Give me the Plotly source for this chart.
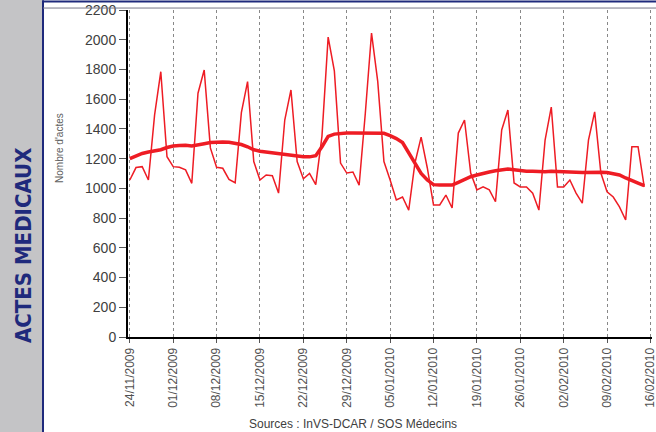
import pandas as pd
import plotly.graph_objects as go

# daily counts, SOS Medecins, 24/11/2009 -> 15/02/2010
start_day = "2009-11-24"
actes = [1056, 1140, 1146, 1056, 1494, 1785, 1213,
         1146, 1142, 1124, 1034, 1640, 1796, 1272,
         1142, 1135, 1060, 1038, 1510, 1718, 1180,
         1056, 1090, 1085, 968, 1460, 1662, 1180,
         1065, 1100, 1025, 1350, 2018, 1790, 1170,
         1103, 1110, 1022, 1507, 2045, 1720, 1180,
         1056, 922, 942, 854, 1170, 1345, 1137,
         888, 888, 955, 868, 1372, 1460, 1103,
         990, 1010, 990, 910, 1393, 1527, 1036,
         1010, 1010, 968, 854, 1325, 1547, 1010,
         1010, 1056, 968, 900, 1325, 1515, 1103,
         977, 942, 875, 787, 1280, 1280, 1010]

# 7-day moving average (thick line)
moyenne = [1200, 1220, 1235, 1245, 1250, 1260, 1275,
           1285, 1288, 1290, 1285, 1290, 1300, 1308,
           1312, 1312, 1310, 1305, 1295, 1280, 1260,
           1250, 1245, 1240, 1232, 1225, 1220, 1215,
           1212, 1212, 1220, 1280, 1350, 1365, 1370,
           1372, 1372, 1372, 1370, 1372, 1370, 1370,
           1355, 1335, 1308, 1240, 1170, 1100, 1056,
           1025, 1022, 1022, 1022, 1040, 1060, 1078,
           1090, 1103, 1110, 1118, 1125, 1130, 1125,
           1118, 1115, 1115, 1112, 1112, 1115, 1112,
           1110, 1108, 1108, 1106, 1108, 1110, 1108,
           1106, 1100, 1090, 1070, 1055, 1035, 1018]

week_ticks = ["2009-11-24", "2009-12-01", "2009-12-08", "2009-12-15",
              "2009-12-22", "2009-12-29", "2010-01-05", "2010-01-12",
              "2010-01-19", "2010-01-26", "2010-02-02", "2010-02-09",
              "2010-02-16"]
week_labels = ["24/11/2009", "01/12/2009", "08/12/2009", "15/12/2009",
               "22/12/2009", "29/12/2009", "05/01/2010", "12/01/2010",
               "19/01/2010", "26/01/2010", "02/02/2010", "09/02/2010",
               "16/02/2010"]

dates = pd.date_range(start_day, periods=len(actes), freq="D")
red = "#ee1c24"
navy = "#1f2a7c"

fig = go.Figure()
fig.add_trace(go.Scatter(x=dates, y=actes, mode="lines",
                         line=dict(color=red, width=1.5), hoverinfo="skip"))
fig.add_trace(go.Scatter(x=dates, y=moyenne, mode="lines",
                         line=dict(color=red, width=3.5), hoverinfo="skip"))

fig.update_layout(
    width=656, height=432,
    margin=dict(l=128, r=4, t=10, b=95),
    paper_bgcolor="white", plot_bgcolor="white",
    showlegend=False,
    font=dict(family="Liberation Sans, Arial, sans-serif", color="#404040"),
)
fig.update_xaxes(
    range=["2009-11-23 17:00", "2010-02-16 06:00"],
    tickvals=week_ticks, ticktext=week_labels, tickangle=-90,
    tickfont=dict(size=12, color="#505050"),
    showgrid=True, gridcolor="#888888", griddash="dot", gridwidth=1,
    showline=True, linecolor="black", linewidth=2,
    ticks="outside", ticklen=4, tickcolor="#555555",
    zeroline=False, automargin=False, ticklabeloverflow="allow",
)
fig.update_yaxes(
    range=[0, 2200], dtick=200,
    tickfont=dict(size=14, color="#404040"),
    showgrid=False, zeroline=False,
    showline=True, linecolor="black", linewidth=2,
    ticks="outside", ticklen=7, tickcolor="#555555",
    automargin=False, ticklabeloverflow="allow",
)

# left grey band with title, frame lines
fig.add_shape(type="rect", xref="paper", yref="paper",
              x0=-0.25, x1=-0.1622, y0=-0.30, y1=1.04,
              fillcolor="#c4c4c6", line=dict(width=0), layer="below")
fig.add_shape(type="line", xref="paper", yref="paper",
              x0=-0.1622, x1=-0.1622, y0=-0.30, y1=1.03,
              line=dict(color=navy, width=2))
fig.add_shape(type="line", xref="paper", yref="paper",
              x0=-0.1622, x1=1.02, y0=1.026, y1=1.026,
              line=dict(color=navy, width=2))
fig.add_shape(type="line", xref="paper", yref="paper",
              x0=-0.1622, x1=1.02, y0=1.006, y1=1.006,
              line=dict(color="#777788", width=1))

fig.add_annotation(text="<b>ACTES MEDICAUX</b>", xref="paper", yref="paper",
                   x=-0.2004, y=0.281, xanchor="center", yanchor="middle",
                   textangle=-90, showarrow=False,
                   font=dict(family="DejaVu Sans Condensed, sans-serif",
                             size=22, color=navy))
fig.add_annotation(text="Nombre d'actes", xref="paper", yref="paper",
                   x=-0.1298, y=0.578, xanchor="center", yanchor="middle",
                   textangle=-90, showarrow=False,
                   font=dict(size=10, color="#606060"))
fig.add_annotation(text="Sources : InVS-DCAR / SOS Médecins", xref="paper", yref="paper",
                   x=0.429, y=-0.266, xanchor="center", yanchor="middle",
                   showarrow=False,
                   font=dict(size=12, color="#404040"))

# drop the default 8px body margin so the figure sits at the page corner
fig.write_html("out.html", config={"displayModeBar": False},
               post_script="document.body.style.margin='0';")
